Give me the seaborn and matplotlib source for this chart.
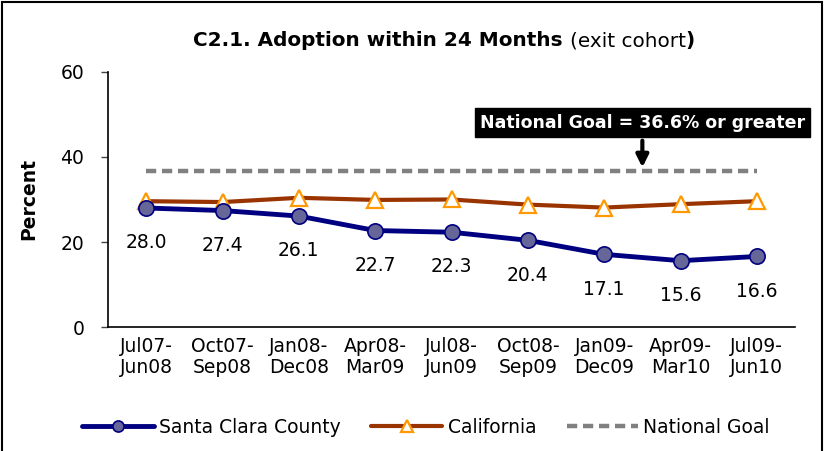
import matplotlib
matplotlib.use("Agg")
import matplotlib.pyplot as plt
import seaborn as sns
import pandas as pd
from matplotlib.patches import Rectangle

categories = ["Jul07-\nJun08", "Oct07-\nSep08", "Jan08-\nDec08", "Apr08-\nMar09", "Jul08-\nJun09",
              "Oct08-\nSep09", "Jan09-\nDec09", "Apr09-\nMar10", "Jul09-\nJun10"]
santa_clara = [28.0, 27.4, 26.1, 22.7, 22.3, 20.4, 17.1, 15.6, 16.6]
california = [29.6, 29.4, 30.4, 29.9, 30.0, 28.8, 28.1, 28.9, 29.6]
national_goal = [36.6] * 9
y_ticks = [0, 20, 40, 60]

sns.set_theme(style="white", rc={"text.color": "black", "axes.labelcolor": "black",
                                 "xtick.color": "black", "ytick.color": "black"})
plt.rcParams['font.family'] = ['DejaVu Sans']
FS = 13.5

fig = plt.figure(figsize=(8.26, 4.51), dpi=100)
ax = fig.add_axes([0.1308, 0.2749, 0.8317, 0.5655])

x = list(range(len(categories)))
df = pd.DataFrame({"x": x, "sc": santa_clara, "ca": california, "ng": national_goal})

sns.lineplot(data=df, x="x", y="ng", ax=ax, color="#808080", lw=3.2,
             dashes=False, label="National Goal", zorder=2)
ax.lines[-1].set_dashes((2.3, 1.3))
sns.lineplot(data=df, x="x", y="ca", ax=ax, color="#993300", lw=3.0, marker="^",
             markersize=11, markerfacecolor="white", markeredgecolor="#FF9900",
             markeredgewidth=1.6, label="California", zorder=3)
sns.lineplot(data=df, x="x", y="sc", ax=ax, color="#000080", lw=3.5, marker="o",
             markersize=11, markerfacecolor="#666699", markeredgecolor="#000080",
             markeredgewidth=1.2, label="Santa Clara County", zorder=4)

for xi, v in zip(x, santa_clara):
    ax.annotate(f"{v:.1f}", (xi, v), xytext=(0, -25), textcoords="offset points",
                ha="center", va="center", fontsize=FS, color="black")

ax.set_xlim(-0.5, 8.5)
ax.set_ylim(0, 60)
ax.set_yticks(y_ticks)
ax.set_yticklabels([str(t) for t in y_ticks], fontsize=FS)
ax.set_xticks(x)
ax.set_xticklabels(categories, fontsize=FS, linespacing=1.15)
ax.tick_params(axis="x", direction="in", length=5, width=1, color="#444444", pad=7)
ax.tick_params(axis="y", direction="out", length=5, width=1, color="#444444", pad=12, left=True)
ax.set_xlabel("")
ax.set_ylabel("Percent", fontsize=FS, fontweight="bold", labelpad=16)
for s in ["top", "right"]:
    ax.spines[s].set_visible(False)
for s in ["left", "bottom"]:
    ax.spines[s].set_color("black")
    ax.spines[s].set_linewidth(1.2)
ax.grid(False)

# annotation box with arrow
ax.annotate("", xy=(6.5, 36.9), xytext=(6.5, 44.5),
            arrowprops=dict(arrowstyle="-|>", color="black", lw=3, mutation_scale=18))
ax.text(6.5, 48.1, "National Goal = 36.6% or greater", ha="center", va="center",
        fontsize=12.5, fontweight="bold", color="white",
        bbox=dict(boxstyle="square,pad=0.3", fc="black", ec="black"))

# title with mixed weights
TFS = 14.4
t1 = fig.text(0, 0.91, "C2.1. Adoption within 24 Months ", ha="left", va="center",
              fontsize=TFS, fontweight="bold")
t2 = fig.text(0, 0.91, "(exit cohort", ha="left", va="center", fontsize=TFS)
t3 = fig.text(0, 0.91, ")", ha="left", va="center", fontsize=TFS, fontweight="bold")
fig.canvas.draw()
W = fig.bbox.width
w1 = t1.get_window_extent().width
w2 = t2.get_window_extent().width
w3 = t3.get_window_extent().width
start = (444 - (w1 + w2 + w3) / 2)
t1.set_x(start / W)
t2.set_x((start + w1) / W)
t3.set_x((start + w1 + w2) / W)

ax.get_legend().remove()
h, l = ax.get_legend_handles_labels()
order = [l.index("Santa Clara County"), l.index("California"), l.index("National Goal")]
leg = fig.legend([h[i] for i in order], [l[i] for i in order], loc="center",
                 bbox_to_anchor=(0.516, 0.053), ncol=3, frameon=False, fontsize=FS,
                 handlelength=3.8, columnspacing=1.6, handletextpad=0.3)
for lh in leg.legend_handles:
    lh.set_markersize(8)

fig.patches.append(Rectangle((0.002, -0.01), 0.993, 1.005, transform=fig.transFigure,
                             fill=False, ec="black", lw=1.5))

fig.savefig("out.png", dpi=100)
